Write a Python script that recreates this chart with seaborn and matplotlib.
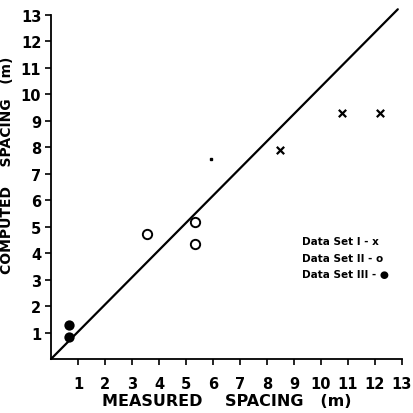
import matplotlib
matplotlib.use("Agg")
import matplotlib.pyplot as plt
import seaborn as sns
import pandas as pd

# waarden
set1_measured = [8.5, 10.8, 12.2]
set1_computed = [7.9, 9.3, 9.3]
set2_measured = [3.55, 5.33, 5.33]
set2_computed = [4.7, 5.17, 4.35]
set3_measured = [0.65, 0.65]
set3_computed = [1.28, 0.83]
stray_mark = ([5.93], [7.55])
line_x = [0, 12.85]
line_y = [0, 13.2]
ticks = list(range(1, 14))
legend_labels = ["Data Set I - x", "Data Set II - o", "Data Set III - \u25cf"]

sns.set_style("ticks")
plt.rcParams["font.family"] = ["DejaVu Sans"]
plt.rcParams["font.weight"] = "bold"
plt.rcParams["axes.labelweight"] = "bold"
for key in ["text.color", "axes.labelcolor", "xtick.color", "ytick.color",
            "xtick.labelcolor", "ytick.labelcolor"]:
    plt.rcParams[key] = "black"

fig = plt.figure(figsize=(4.13, 4.14), dpi=100)
ax = fig.add_axes([0.1235, 0.1304, 0.8495, 0.832])

df1 = pd.DataFrame({"m": set1_measured, "c": set1_computed})
df2 = pd.DataFrame({"m": set2_measured, "c": set2_computed})
df3 = pd.DataFrame({"m": set3_measured, "c": set3_computed})

ax.plot(line_x, line_y, color="black", lw=1.6, clip_on=False)
sns.scatterplot(data=df1, x="m", y="c", marker="x", s=28, color="black",
                linewidth=1.6, ax=ax, clip_on=False)
sns.scatterplot(data=df2, x="m", y="c", marker="o", s=45, facecolor="white",
                edgecolor="black", linewidth=1.4, ax=ax, clip_on=False)
sns.scatterplot(data=df3, x="m", y="c", marker="o", s=55, color="black",
                linewidth=0, ax=ax, clip_on=False)
ax.plot(stray_mark[0], stray_mark[1], "s", color="black", ms=1.5)

ax.set_xlim(0, 13)
ax.set_ylim(0, 13)
ax.set_xticks(ticks)
ax.set_yticks(ticks)
ax.set_xticklabels([str(t) for t in ticks], fontsize=10.5)
ax.set_yticklabels([str(t) for t in ticks], fontsize=10.5)
ax.tick_params(axis="x", direction="out", length=4, width=1.2, pad=8)
ax.tick_params(axis="y", direction="out", length=4, width=1.2, pad=3)
sns.despine(ax=ax)
for side in ["left", "bottom"]:
    ax.spines[side].set_linewidth(1.3)
    ax.spines[side].set_color("black")

ax.set_xlabel("MEASURED    SPACING   (m)", fontsize=11.5, labelpad=2)
ax.set_ylabel("")
fig.text(0.018, 0.6, "COMPUTED    SPACING   (m)", rotation=90, fontsize=10,
         fontweight="bold", ha="center", va="center")

for i, lab in enumerate(legend_labels):
    ax.text(9.3, 4.45 - i * 0.63, lab, fontsize=7.5, fontweight="bold",
            ha="left", va="center")

fig.savefig("out.png", dpi=100)
